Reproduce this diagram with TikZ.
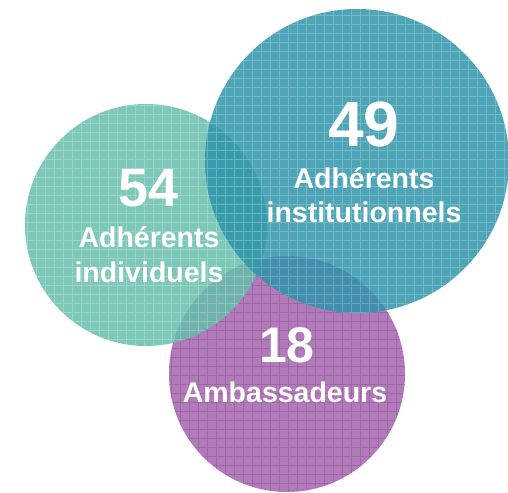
\documentclass[tikz,border=0pt]{standalone}
\usepackage{fontspec}
\setmainfont{Liberation Sans}
\usepackage{tikz}
\definecolor{cgreen}{RGB}{100,190,170}
\definecolor{cblue}{RGB}{44,148,170}
\definecolor{cpurple}{RGB}{164,96,174}
\tikzset{
  bubble/.style  = { fill=#1, fill opacity=0.84, draw=none },
  texture/.style = { draw=#1, line width=0.7pt, opacity=0.22 },
  number/.style  = { text=white, anchor=base, inner sep=0pt, font=\fontsize{#1}{#1}\selectfont\bfseries },
  caption/.style = { text=white, anchor=base, inner sep=0pt, font=\fontsize{28.5}{34}\selectfont\bfseries }
}
\begin{document}
\begin{tikzpicture}[x=1pt,y=1pt]
  \useasboundingbox (0,0) rectangle (508,492);
  % Draw all circles
  \coordinate (amb) at (287,118);
  \coordinate (ind) at (146,267);
  \coordinate (ins) at (357,331);
  \fill[bubble=cpurple] (amb) circle (118);
  \begin{scope}
    \clip (amb) circle (118);
    \draw[texture=cpurple!50!black] (160,0) grid[step=9] (410,240);
  \end{scope}
  \fill[bubble=cgreen] (ind) circle (121);
  \begin{scope}
    \clip (ind) circle (121);
    \draw[texture=white] (20,140) grid[step=9] (270,390);
  \end{scope}
  \fill[bubble=cblue] (ins) circle (152);
  \begin{scope}
    \clip (ins) circle (152);
    \draw[texture=white] (200,175) grid[step=9] (510,490);
  \end{scope}
  % Draw labels
  \node[number=54] (n54) at (149,285) {54};
  \node[caption] (ind1) at (149,244) {Adhérents};
  \node[caption] (ind2) at (149,209) {individuels};
  \node[number=64] (n49) at (364,345) {49};
  \node[caption] (ins1) at (364,303) {Adhérents};
  \node[caption] (ins2) at (364,269) {institutionnels};
  \node[number=50] (n18) at (287,129) {18};
  \node[caption] (amb1) at (285,89) {Ambassadeurs};
\end{tikzpicture}
\end{document}
